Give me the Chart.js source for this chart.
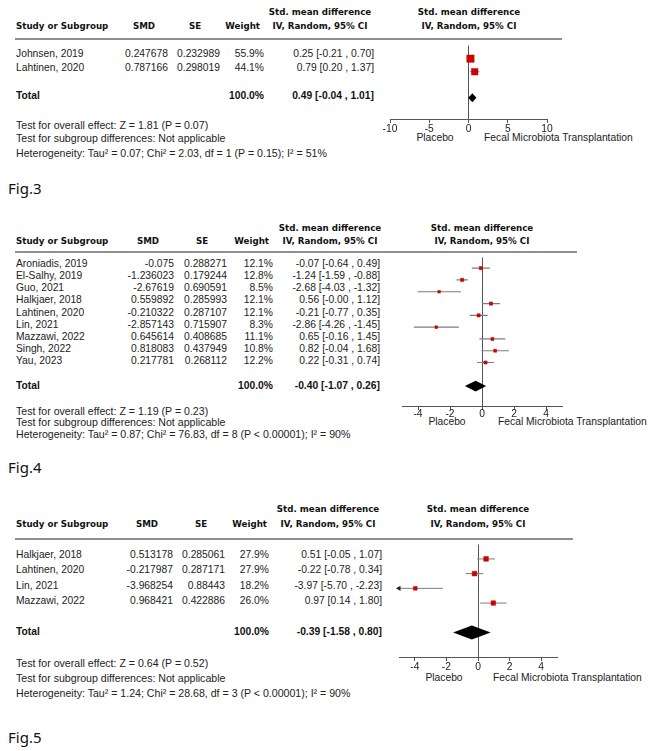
<!DOCTYPE html>
<html>
<head>
<meta charset="utf-8">
<script src="https://cdn.jsdelivr.net/npm/chart.js@4"></script>
<style>
  html, body { margin: 0; padding: 0; background: #fff; }
  #page { position: relative; width: 663px; height: 751px; overflow: hidden;
          font-family: "Liberation Sans", Arial, sans-serif; color: #222; }
  .t { position: absolute; white-space: nowrap; font-size: 10.3px; line-height: 12px; }
  .n { font-size: 10.6px; }
  .h { font-family: "DejaVu Sans", Verdana, sans-serif; font-weight: bold; font-size: 8.7px; color: #111; }
  .b { font-weight: bold; color: #111; }
  .fig { font-family: "Noto Sans", sans-serif; font-size: 15px; line-height: 20px; color: #111; }
  .rule { position: absolute; height: 2px; background: #8f8f8f; }
  canvas { position: absolute; }
</style>
</head>
<body>
<div id="page"></div>
<script>
// Fig.3
const FIG3_STUDIES = ['Johnsen, 2019', 'Lahtinen, 2020'];
const FIG3_SMD = [0.247678, 0.787166];
const FIG3_SE = [0.232989, 0.298019];
const FIG3_WEIGHT = [55.9, 44.1];
const FIG3_EST = [0.25, 0.79];
const FIG3_LO = [-0.21, 0.20];
const FIG3_HI = [0.70, 1.37];
const FIG3_TOTAL = [0.49, -0.04, 1.01];
const FIG3_TICKS = [-10, -5, 0, 5, 10];
const FIG3_NOTES = [
  'Test for overall effect: Z = 1.81 (P = 0.07)',
  'Test for subgroup differences: Not applicable',
  'Heterogeneity: Tau² = 0.07; Chi² = 2.03, df = 1 (P = 0.15); I² = 51%'
];

// Fig.4
const FIG4_STUDIES = ['Aroniadis, 2019', 'El-Salhy, 2019', 'Guo, 2021', 'Halkjaer, 2018', 'Lahtinen, 2020',
                      'Lin, 2021', 'Mazzawi, 2022', 'Singh, 2022', 'Yau, 2023'];
const FIG4_SMD = [-0.075, -1.236023, -2.67619, 0.559892, -0.210322, -2.857143, 0.645614, 0.818083, 0.217781];
const FIG4_SE = [0.288271, 0.179244, 0.690591, 0.285993, 0.287107, 0.715907, 0.408685, 0.437949, 0.268112];
const FIG4_WEIGHT = [12.1, 12.8, 8.5, 12.1, 12.1, 8.3, 11.1, 10.8, 12.2];
const FIG4_EST = [-0.07, -1.24, -2.68, 0.56, -0.21, -2.86, 0.65, 0.82, 0.22];
const FIG4_LO = [-0.64, -1.59, -4.03, -0.0007, -0.77, -4.26, -0.16, -0.04, -0.31];
const FIG4_HI = [0.49, -0.88, -1.32, 1.12, 0.35, -1.45, 1.45, 1.68, 0.74];
const FIG4_TOTAL = [-0.40, -1.07, 0.26];
const FIG4_TICKS = [-4, -2, 0, 2, 4];
const FIG4_NOTES = [
  'Test for overall effect: Z = 1.19 (P = 0.23)',
  'Test for subgroup differences: Not applicable',
  'Heterogeneity: Tau² = 0.87; Chi² = 76.83, df = 8 (P < 0.00001); I² = 90%'
];

// Fig.5
const FIG5_STUDIES = ['Halkjaer, 2018', 'Lahtinen, 2020', 'Lin, 2021', 'Mazzawi, 2022'];
const FIG5_SMD = [0.513178, -0.217987, -3.968254, 0.968421];
const FIG5_SE = [0.285061, 0.287171, 0.88443, 0.422886];
const FIG5_WEIGHT = [27.9, 27.9, 18.2, 26.0];
const FIG5_EST = [0.51, -0.22, -3.97, 0.97];
const FIG5_LO = [-0.05, -0.78, -5.70, 0.14];
const FIG5_HI = [1.07, 0.34, -2.23, 1.80];
const FIG5_TOTAL = [-0.39, -1.58, 0.80];
const FIG5_TICKS = [-4, -2, 0, 2, 4];
const FIG5_NOTES = [
  'Test for overall effect: Z = 0.64 (P = 0.52)',
  'Test for subgroup differences: Not applicable',
  'Heterogeneity: Tau² = 1.24; Chi² = 28.68, df = 3 (P < 0.00001); I² = 90%'
];

const page = document.getElementById('page');

function text(str, x, y, align, cls) {
  const el = document.createElement('div');
  el.className = 't ' + (cls || '');
  el.textContent = str;
  el.style.left = x + 'px';
  el.style.top = y + 'px';
  const tx = align === 'right' ? '-100%' : align === 'center' ? '-50%' : '0';
  el.style.transform = 'translate(' + tx + ', -50%)';
  page.appendChild(el);
}

function ci(est, lo, hi) {
  return est.toFixed(2) + ' [' + lo.toFixed(2) + ' , ' + hi.toFixed(2) + ']';
}

function drawPanel(p) {
  const n = p.studies.length;
  const rowY = i => p.rowY0 + i * p.step;
  const totalRow = n + 1;

  // header
  text('Std. mean difference', p.ciHdrC, p.hdr1, 'center', 'h');
  text('Std. mean difference', p.plotHdrC, p.hdr1, 'center', 'h');
  text('Study or Subgroup', 16, p.hdr2, 'left', 'h');
  text('SMD', p.smdC, p.hdr2, 'center', 'h');
  text('SE', p.seC, p.hdr2, 'center', 'h');
  text('Weight', p.wHdrR, p.hdr2, 'right', 'h');
  text('IV, Random, 95% CI', p.ciHdrC, p.hdr2, 'center', 'h');
  text('IV, Random, 95% CI', p.plotHdrC, p.hdr2, 'center', 'h');

  const rule = document.createElement('div');
  rule.className = 'rule';
  rule.style.left = '15px';
  rule.style.top = (p.ruleY - 1) + 'px';
  rule.style.width = (p.ruleR - 15) + 'px';
  page.appendChild(rule);

  // study rows
  p.studies.forEach((s, i) => {
    const y = rowY(i);
    text(s, 16, y, 'left');
    text(String(p.smd[i]), p.smdR, y, 'right');
    text(String(p.se[i]), p.seR, y, 'right');
    text(p.weight[i].toFixed(1) + '%', p.wR, y, 'right');
    text(ci(p.est[i], p.lo[i], p.hi[i]), p.ciR, y, 'right');
  });
  const ty = rowY(totalRow);
  text('Total', 16, ty, 'left', 'b');
  text('100.0%', p.wR, ty, 'right', 'b');
  text(ci(p.total[0], p.total[1], p.total[2]), p.ciR, ty, 'right', 'b');

  p.notes.forEach((s, i) => text(s, 16, p.noteY[i], 'left', 'n'));
  text('Placebo', p.placeboC, p.labelY, 'center');
  text('Fecal Microbiota Transplantation', p.fmtL, p.labelY, 'left');
  text(p.fig, 8, p.figY, 'left', 'fig');

  // forest plot
  const pad = 30, axisH = 20;
  const top = p.ruleY + 1;
  const canvas = document.createElement('canvas');
  canvas.width = p.px1 - p.px0 + 2 * pad;
  canvas.height = p.axisY - top + axisH;
  canvas.style.left = (p.px0 - pad) + 'px';
  canvas.style.top = top + 'px';
  page.appendChild(canvas);

  const maxW = Math.max(...p.weight);
  const datasets = [{
    type: 'scatter',
    data: p.est.map((v, i) => ({ x: v, y: i })),
    pointStyle: 'rect',
    pointRadius: p.weight.map(w => p.box * Math.sqrt(w / maxW)),
    backgroundColor: '#d40000',
    borderColor: '#b80000',
    borderWidth: 0.5,
    order: 0
  }];
  p.lo.forEach((lo, i) => {
    datasets.push({
      type: 'line',
      data: [{ x: lo, y: i }, { x: p.hi[i], y: i }],
      borderColor: '#7c7c7c',
      borderWidth: p.ciWidth,
      pointRadius: 0,
      order: 1
    });
  });
  const cut = p.lo.map((lo, i) => lo < p.xMin ? i : -1).filter(i => i >= 0);
  if (cut.length) {
    datasets.push({
      type: 'scatter',
      data: cut.map(i => ({ x: p.xMin, y: i })),
      pointStyle: 'triangle',
      rotation: -90,
      pointRadius: 3,
      backgroundColor: '#222',
      borderColor: '#222',
      borderWidth: 0,
      clip: false,
      order: 0
    });
  }

  new Chart(canvas, {
    type: 'scatter',
    data: { datasets: datasets },
    options: {
      responsive: false,
      animation: false,
      events: [],
      layout: { padding: { left: pad, right: pad, top: 0, bottom: 0 } },
      plugins: { legend: { display: false }, tooltip: { enabled: false } },
      scales: {
        x: {
          type: 'linear',
          min: p.xMin,
          max: p.xMax,
          afterBuildTicks: s => { s.ticks = p.ticks.map(v => ({ value: v })); },
          afterFit: s => { s.height = axisH; },
          border: { display: true, color: '#555', width: 1 },
          grid: {
            color: c => (c.tick && c.tick.value === 0) ? '#555' : 'rgba(0,0,0,0)',
            tickColor: '#555',
            tickLength: 4,
            lineWidth: 1
          },
          ticks: {
            font: { family: 'Liberation Sans', size: 10.3 },
            color: '#222',
            padding: p.tickPad,
            maxRotation: 0,
            autoSkip: false
          }
        },
        y: {
          type: 'linear',
          display: false,
          reverse: true,
          min: (top - p.rowY0) / p.step,
          max: (p.axisY - p.rowY0) / p.step
        }
      }
    },
    plugins: [{
      id: 'diamond',
      afterDatasetsDraw(chart) {
        const xs = chart.scales.x, ys = chart.scales.y;
        const ctx = chart.ctx;
        const cy = ys.getPixelForValue(totalRow);
        const [est, lo, hi] = p.total;
        ctx.save();
        ctx.beginPath();
        ctx.moveTo(xs.getPixelForValue(lo), cy);
        ctx.lineTo(xs.getPixelForValue(est), cy - p.half);
        ctx.lineTo(xs.getPixelForValue(hi), cy);
        ctx.lineTo(xs.getPixelForValue(est), cy + p.half);
        ctx.closePath();
        ctx.fillStyle = '#000';
        ctx.fill();
        ctx.restore();
      }
    }]
  });
}

drawPanel({
  fig: 'Fig.3', studies: FIG3_STUDIES, smd: FIG3_SMD, se: FIG3_SE, weight: FIG3_WEIGHT,
  est: FIG3_EST, lo: FIG3_LO, hi: FIG3_HI, total: FIG3_TOTAL, ticks: FIG3_TICKS, notes: FIG3_NOTES,
  hdr1: 12, hdr2: 26, ruleY: 39, ruleR: 562, rowY0: 54, step: 14, axisY: 119,
  smdC: 144, seC: 195, wHdrR: 260, ciHdrC: 320, plotHdrC: 469,
  smdR: 168, seR: 220, wR: 264, ciR: 374,
  noteY: [125, 138, 153], labelY: 138, placeboC: 435, fmtL: 484, figY: 188,
  xMin: -10, xMax: 10, px0: 390, px1: 547, tickPad: 0, box: 5.2, half: 4.5, ciWidth: 1
});

drawPanel({
  fig: 'Fig.4', studies: FIG4_STUDIES, smd: FIG4_SMD, se: FIG4_SE, weight: FIG4_WEIGHT,
  est: FIG4_EST, lo: FIG4_LO, hi: FIG4_HI, total: FIG4_TOTAL, ticks: FIG4_TICKS, notes: FIG4_NOTES,
  hdr1: 228, hdr2: 241, ruleY: 252, ruleR: 577, rowY0: 264, step: 12.15, axisY: 406,
  smdC: 148, seC: 202, wHdrR: 269, ciHdrC: 330, plotHdrC: 482,
  smdR: 174, seR: 227, wR: 273, ciR: 380,
  noteY: [411, 422, 434], labelY: 422, placeboC: 447, fmtL: 498, figY: 467,
  xMin: -5, xMax: 5, px0: 402, px1: 562, tickPad: -2, box: 2.3, half: 5.3, ciWidth: 1.2
});

drawPanel({
  fig: 'Fig.5', studies: FIG5_STUDIES, smd: FIG5_SMD, se: FIG5_SE, weight: FIG5_WEIGHT,
  est: FIG5_EST, lo: FIG5_LO, hi: FIG5_HI, total: FIG5_TOTAL, ticks: FIG5_TICKS, notes: FIG5_NOTES,
  hdr1: 509, hdr2: 524, ruleY: 539, ruleR: 573, rowY0: 555, step: 15.3, axisY: 657,
  smdC: 147, seC: 201, wHdrR: 267, ciHdrC: 328, plotHdrC: 478,
  smdR: 173, seR: 225, wR: 269, ciR: 382,
  noteY: [663, 678, 693], labelY: 678, placeboC: 444, fmtL: 493, figY: 737,
  xMin: -5, xMax: 5, px0: 399, px1: 557, tickPad: 0, box: 3.3, half: 7, ciWidth: 1
});
</script>
</body>
</html>
